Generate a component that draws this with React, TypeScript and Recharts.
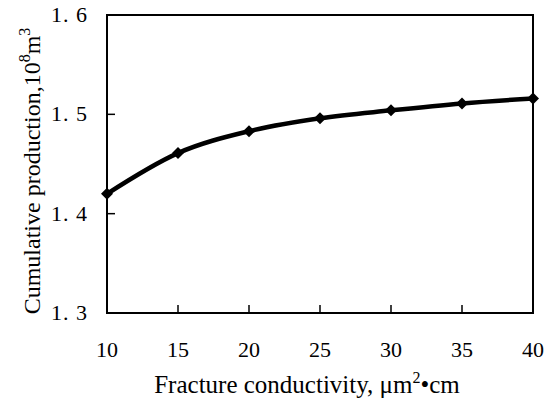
import { LineChart, Line, XAxis, YAxis, ReferenceArea, Label } from "recharts";

const conductivity = [10, 15, 20, 25, 30, 35, 40];
const production = [1.42, 1.461, 1.483, 1.496, 1.504, 1.511, 1.516];
const xTicks = [10, 15, 20, 25, 30, 35, 40];
const yTicks = [1.3, 1.4, 1.5, 1.6];

const data = conductivity.map((c, i) => ({ c, p: production[i] }));

const serif = "Liberation Serif, serif";

function Diamond(props: any) {
  const { cx, cy } = props;
  if (cx == null || cy == null) return null;
  const r = 6;
  return (
    <path
      d={`M${cx},${cy - r}L${cx + r},${cy}L${cx},${cy + r}L${cx - r},${cy}Z`}
      fill="#000"
    />
  );
}

function XTick(props: any) {
  const { x, y, payload } = props;
  return (
    <text x={x} y={y + 16} textAnchor="middle" fill="#000" style={{ fontFamily: serif, fontSize: 22 }}>
      {payload.value}
    </text>
  );
}

function YTick(props: any) {
  const { x, y, payload } = props;
  return (
    <text x={x} y={y + 7} textAnchor="end" fill="#000" style={{ fontFamily: serif, fontSize: 22, letterSpacing: 1 }}>
      {Number(payload.value).toFixed(1).replace(".", ". ")}
    </text>
  );
}

function XTitle() {
  return (
    <text x={307} y={393} textAnchor="middle" style={{ fontFamily: serif, fontSize: 25 }} fill="#000">
      Fracture conductivity, μm
      <tspan dy={-10} style={{ fontSize: 16 }}>2</tspan>
      <tspan dy={10}>•cm</tspan>
    </text>
  );
}

function YTitle() {
  return (
    <text
      x={0}
      y={0}
      transform="translate(40,171) rotate(-90)"
      textAnchor="middle"
      style={{ fontFamily: serif, fontSize: 24 }}
      fill="#000"
    >
      Cumulative production,10
      <tspan dy={-10} style={{ fontSize: 16 }}>8</tspan>
      <tspan dy={10}>m</tspan>
      <tspan dy={-10} style={{ fontSize: 16 }}>3</tspan>
    </text>
  );
}

export default function App() {
  return (
    <div style={{ position: "absolute", left: 0, top: 0 }}>
      <LineChart
        width={546}
        height={398}
        data={data}
        margin={{ top: 15, right: 13, left: 0, bottom: 0 }}
      >
        <XAxis
          dataKey="c"
          type="number"
          domain={[10, 40]}
          ticks={xTicks}
          height={85}
          tickSize={-8}
          tickMargin={36}
          axisLine={{ stroke: "#000", strokeWidth: 2 }}
          tickLine={{ stroke: "#000", strokeWidth: 1.5 }}
          tick={<XTick />}
        >
          <Label content={<XTitle />} />
        </XAxis>
        <YAxis
          type="number"
          domain={[1.3, 1.6]}
          ticks={yTicks}
          width={107}
          tickSize={-8}
          tickMargin={27}
          axisLine={{ stroke: "#000", strokeWidth: 2 }}
          tickLine={{ stroke: "#000", strokeWidth: 1.5 }}
          tick={<YTick />}
        >
          <Label content={<YTitle />} />
        </YAxis>
        <ReferenceArea
          x1={10}
          x2={40}
          y1={1.3}
          y2={1.6}
          fill="none"
          fillOpacity={0}
          stroke="#000"
          strokeWidth={2}
          ifOverflow="visible"
        />
        <Line
          type="monotone"
          dataKey="p"
          stroke="#000"
          strokeWidth={4.5}
          dot={<Diamond />}
          activeDot={false}
          isAnimationActive={false}
        />
      </LineChart>
    </div>
  );
}
